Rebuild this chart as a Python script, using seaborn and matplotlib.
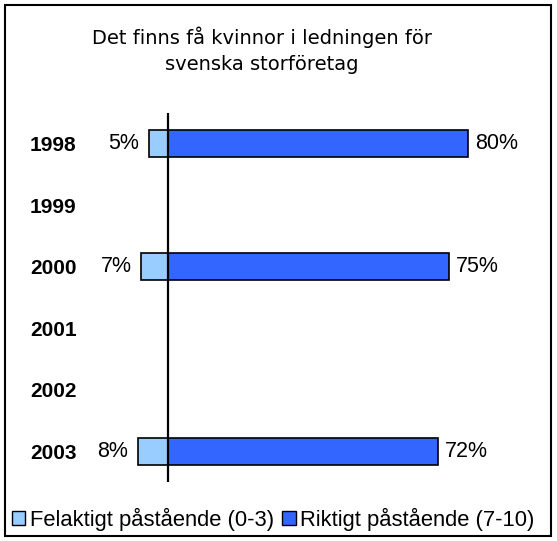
import matplotlib
matplotlib.use("Agg")
import matplotlib.pyplot as plt
from matplotlib.patches import Patch, Rectangle
import pandas as pd
import seaborn as sns

# data
years = ["1998", "1999", "2000", "2001", "2002", "2003"]
survey_years = ["1998", "2000", "2003"]
wrong = [5, 7, 8]      # Felaktigt påstående (0-3)
right = [80, 75, 72]   # Riktigt påstående (7-10)

light = "#99CCFF"
dark = "#3366FF"

sns.set_style("white")
plt.rcParams["font.family"] = ["Liberation Sans", "DejaVu Sans"]
plt.rcParams["text.color"] = "black"
plt.rcParams["ytick.color"] = "black"
plt.rcParams["ytick.labelcolor"] = "black"

df = pd.DataFrame({"year": survey_years, "wrong": [-v for v in wrong], "right": right})

fig = plt.figure(figsize=(5.57, 5.41), dpi=100)
W, H = 557, 541
ax = fig.add_axes([85 / W, 1 - 482.3 / H, 460 / W, (482.3 - 112.7) / H])

sns.barplot(data=df, y="year", x="wrong", order=years, orient="h", color=light,
            edgecolor="black", linewidth=1.2, width=0.44, saturation=1, ax=ax)
sns.barplot(data=df, y="year", x="right", order=years, orient="h", color=dark,
            edgecolor="black", linewidth=1.2, width=0.44, saturation=1, ax=ax)

scale = 3.75  # px per percent
ax.set_xlim(-(167.7 - 85) / scale, (545 - 167.7) / scale)
ax.set_ylim(5.5, -0.5)
ax.axvline(0, color="black", lw=1.6, zorder=5)

ax.bar_label(ax.containers[0], labels=[f"{v}%" for v in wrong], padding=7, fontsize=15.5)
ax.bar_label(ax.containers[1], labels=[f"{v}%" for v in right], padding=5, fontsize=15.5)

sns.despine(ax=ax, left=True, bottom=True)
ax.set_xticks([])
ax.set_xlabel("")
ax.set_ylabel("")
ax.tick_params(axis="y", length=0, pad=6, labelsize=15)
for t in ax.get_yticklabels():
    t.set_fontweight("bold")

fig.text(262 / W, 1 - 50 / H, "Det finns få kvinnor i ledningen för\nsvenska storföretag",
         ha="center", va="center", fontsize=14, family=["DejaVu Sans"], linespacing=1.45)

handles = [Patch(facecolor=light, edgecolor="black", label="Felaktigt påstående (0-3)"),
           Patch(facecolor=dark, edgecolor="black", label="Riktigt påstående (7-10)")]
fig.legend(handles=handles, loc="center left", bbox_to_anchor=(12 / W, 1 - 519 / H),
           ncol=2, frameon=False, fontsize=15.8, handlelength=0.6, handleheight=0.6,
           handletextpad=0.2, columnspacing=0.4, borderpad=0, borderaxespad=0)

fig.patches.append(Rectangle((5 / W, 5 / H), 546 / W, 531 / H, transform=fig.transFigure,
                             fill=False, edgecolor="black", lw=1.5))

fig.savefig("out.png", dpi=100)
